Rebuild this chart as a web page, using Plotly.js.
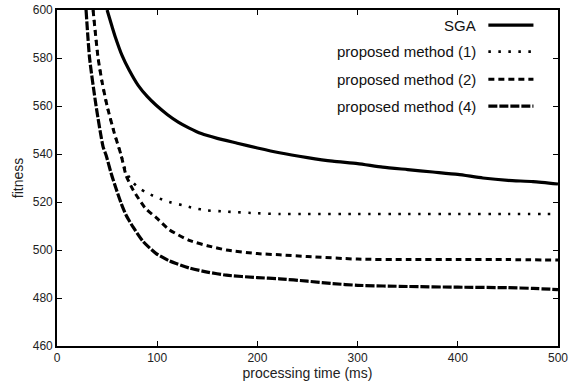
<!DOCTYPE html>
<html>
<head>
<meta charset="utf-8">
<script src="https://cdn.plot.ly/plotly-3.0.1.min.js"></script>
<style>html,body{margin:0;padding:0;background:#fff}#chart{width:575px;height:383px}</style>
</head>
<body>
<div id="chart"></div>
<script>
const seriesNames = ["SGA", "proposed method (1)", "proposed method (2)", "proposed method (4)"];

const sgaT = [50, 55, 58, 65, 72, 81, 90, 99, 110, 121, 132, 144, 160, 180, 200, 222, 250, 275, 300, 325, 350, 375, 400, 425, 450, 475, 500];
const sgaY = [600, 593, 589, 581, 575, 568.6, 564, 560.3, 556.5, 553.3, 550.8, 548.5, 546.5, 544.5, 542.5, 540.5, 538.5, 537, 536, 534.5, 533.5, 532.5, 531.5, 530, 529, 528.5, 527.5];

const m1T = [36, 41, 45, 50, 57, 64, 69, 76, 82, 89, 99, 112, 126, 136, 150, 169, 200, 222, 250, 300, 350, 400, 450, 500];
const m1Y = [600, 580, 570, 560, 549, 539.5, 532.5, 528, 525.8, 524, 522, 520, 518.6, 517.5, 516.5, 516, 515.3, 515, 515, 515, 515, 515, 515, 515];

const m2T = [36, 41, 45, 50, 57, 64, 69, 76, 88, 99, 112, 132, 150, 169, 200, 222, 250, 300, 350, 400, 450, 500];
const m2Y = [600, 580, 570, 560, 549, 539.5, 531, 525, 517.5, 513.5, 508.5, 504, 501.8, 500, 498.5, 498, 497.3, 496.2, 496, 496, 496, 495.8];

const m4T = [29, 32.5, 39, 46, 49, 54, 59, 64, 69, 76, 86, 99, 112, 132, 150, 169, 200, 222, 250, 275, 300, 350, 400, 450, 475, 500];
const m4Y = [600, 580, 560, 543, 539.5, 532, 525.5, 519.5, 514.5, 509.5, 503.5, 498.5, 495.5, 492.5, 490.8, 489.5, 488.5, 488, 487, 486, 485.3, 484.8, 484.5, 484.3, 484, 483.5];

const xTicks = [0, 100, 200, 300, 400, 500];
const yTicks = [460, 480, 500, 520, 540, 560, 580, 600];

const styles = [
  {width: 3.2, dash: "solid"},
  {width: 2.6, dash: "2.5px,7.5px"},
  {width: 3, dash: "6px,4px"},
  {width: 3.2, dash: "9px,2px"}
];

const xs = [sgaT, m1T, m2T, m4T];
const ys = [sgaY, m1Y, m2Y, m4Y];

const traces = seriesNames.map((n, i) => ({
  x: xs[i], y: ys[i], name: n, type: "scatter", mode: "lines",
  line: {color: "#000", width: styles[i].width, dash: styles[i].dash, shape: "spline", smoothing: 0.6},
  showlegend: false, hoverinfo: "skip"
}));

const legendY = [0.955, 0.876, 0.794, 0.714];
const annotations = seriesNames.map((n, i) => ({
  xref: "paper", yref: "paper", x: 0.84, y: legendY[i], xanchor: "right", yanchor: "middle",
  text: n, showarrow: false, font: {family: "Liberation Sans, Arial, sans-serif", size: 15, color: "#111"}
}));
const shapes = seriesNames.map((n, i) => ({
  type: "line", xref: "paper", yref: "paper", x0: 0.861, x1: 0.951, y0: legendY[i], y1: legendY[i],
  line: {color: "#000", width: styles[i].width, dash: styles[i].dash}
}));

const axisCommon = {
  showline: true, linecolor: "#000", linewidth: 1.8, mirror: "allticks",
  ticks: "inside", ticklen: 5, tickwidth: 1, tickcolor: "#000",
  showgrid: false, zeroline: false,
  tickfont: {family: "Liberation Sans, Arial, sans-serif", size: 12, color: "#222"}
};

const layout = {
  width: 575, height: 383,
  margin: {l: 57, r: 17, t: 10, b: 37},
  paper_bgcolor: "#fff", plot_bgcolor: "#fff",
  xaxis: Object.assign({}, axisCommon, {
    range: [0, 500], tickvals: xTicks, ticktext: xTicks.map(String),
    title: {text: "processing time (ms)", standoff: 2, font: {family: "Liberation Sans, Arial, sans-serif", size: 14, color: "#222"}}
  }),
  yaxis: Object.assign({}, axisCommon, {
    range: [460, 600], tickvals: yTicks, ticktext: yTicks.map(String),
    title: {text: "fitness", standoff: 6, font: {family: "Liberation Sans, Arial, sans-serif", size: 14, color: "#222"}}
  }),
  annotations: annotations,
  shapes: shapes,
  showlegend: false
};

Plotly.newPlot("chart", traces, layout, {staticPlot: true, displayModeBar: false});
</script>
</body>
</html>
